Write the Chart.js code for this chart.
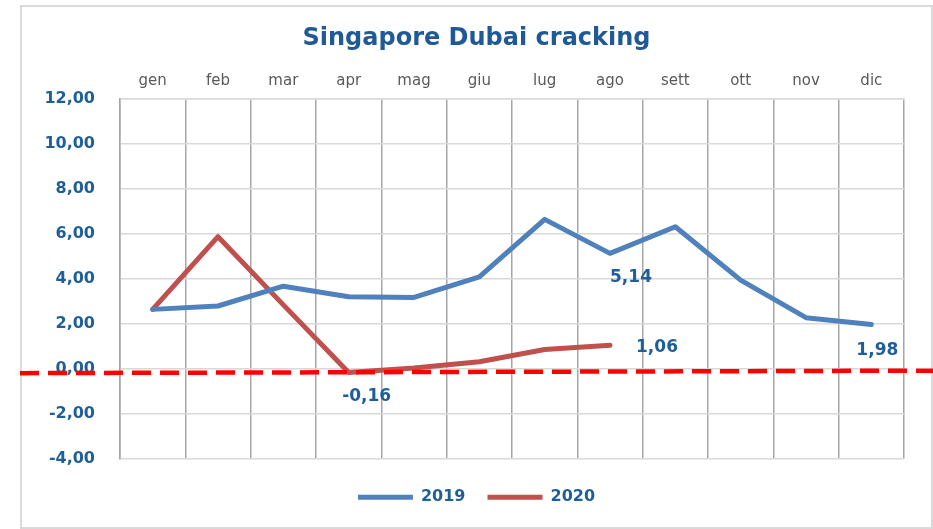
<!DOCTYPE html>
<html>
<head>
<meta charset="utf-8">
<script src="https://cdn.jsdelivr.net/npm/chart.js@4/dist/chart.umd.min.js"></script>
<style>
  html, body { margin: 0; padding: 0; background: #ffffff; }
  #wrap { width: 933px; height: 529px; position: relative; }
</style>
</head>
<body>
<div id="wrap"><canvas id="c" width="933" height="529"></canvas></div>
<script>
// ---- Data ----
const TITLE = 'Singapore Dubai cracking';
const MONTHS = ['gen', 'feb', 'mar', 'apr', 'mag', 'giu', 'lug', 'ago', 'sett', 'ott', 'nov', 'dic'];
const SERIES_2019 = [2.65, 2.80, 3.68, 3.21, 3.18, 4.09, 6.65, 5.14, 6.32, 3.95, 2.28, 1.98];
const SERIES_2020 = [2.65, 5.88, 2.85, -0.16, 0.04, 0.32, 0.87, 1.06, null, null, null, null];
const SERIES_NAMES = ['2019', '2020'];
const Y_MIN = -4, Y_MAX = 12, Y_STEP = 2;
const REFERENCE_LEVEL = -0.14;           // red dashed line
// labelled points: [datasetIndex, monthIndex]
const LABELLED_POINTS = [[1, 3], [0, 7], [1, 7], [0, 11]];

const BLUE = '#4F81BD', RED = '#C0504D', TEXT_BLUE = '#1F5F99';
const fmt = v => v.toFixed(2).replace('.', ',');

const LABEL_OFFSETS = { '1,3': [18, 24], '0,7': [21, 24], '1,7': [47, 2], '0,11': [6, 26] };

const framePlugin = {
  id: 'frame',
  beforeDraw(chart) {
    const ctx = chart.ctx;
    ctx.save();
    ctx.fillStyle = '#ffffff';
    ctx.fillRect(0, 0, chart.width, chart.height);
    ctx.strokeStyle = '#d9d9d9';
    ctx.lineWidth = 2;
    ctx.strokeRect(21, 6, 911, 522);
    ctx.restore();
  }
};

const labelsPlugin = {
  id: 'pointLabels',
  afterDatasetsDraw(chart) {
    const ctx = chart.ctx;
    ctx.save();
    ctx.font = 'bold 17px "DejaVu Sans"';
    ctx.fillStyle = TEXT_BLUE;
    ctx.textAlign = 'center';
    ctx.textBaseline = 'middle';
    LABELLED_POINTS.forEach(([d, i]) => {
      const el = chart.getDatasetMeta(d).data[i];
      const v = chart.data.datasets[d].data[i];
      const off = LABEL_OFFSETS[d + ',' + i];
      ctx.fillText(fmt(v), el.x + off[0], el.y + off[1]);
    });
    ctx.restore();
  }
};

const refLinePlugin = {
  id: 'refLine',
  afterDraw(chart) {
    const ctx = chart.ctx;
    const y = chart.scales.y.getPixelForValue(REFERENCE_LEVEL);
    ctx.save();
    ctx.strokeStyle = '#FF0000';
    ctx.lineWidth = 4.5;
    ctx.setLineDash([19, 9]);
    ctx.beginPath();
    ctx.moveTo(20, y + 1);
    ctx.lineTo(933, y - 1.5);
    ctx.stroke();
    ctx.restore();
  }
};

new Chart(document.getElementById('c'), {
  type: 'line',
  data: {
    labels: MONTHS,
    datasets: [
      { label: SERIES_NAMES[0], data: SERIES_2019, borderColor: BLUE, backgroundColor: BLUE,
        borderWidth: 5, pointRadius: 0, tension: 0, borderCapStyle: 'round', borderJoinStyle: 'round' },
      { label: SERIES_NAMES[1], data: SERIES_2020, borderColor: RED, backgroundColor: RED,
        borderWidth: 5, pointRadius: 0, tension: 0, borderCapStyle: 'round', borderJoinStyle: 'round' }
    ]
  },
  options: {
    responsive: false,
    animation: false,
    layout: { padding: { left: 21, right: 1, top: 0, bottom: 13.8 } },
    plugins: {
      title: {
        display: true, text: TITLE, color: '#1F5A96',
        font: { family: '"DejaVu Sans"', size: 24, weight: 'bold', lineHeight: 1.2 },
        padding: { top: 24, bottom: 0 }
      },
      legend: {
        position: 'bottom',
        title: { display: true, text: '', font: { size: 1 }, padding: { top: 7, bottom: 0 } },
        labels: {
          usePointStyle: true, pointStyle: 'line', pointStyleWidth: 55,
          padding: 22, color: TEXT_BLUE,
          font: { family: '"DejaVu Sans"', size: 16, weight: 'bold' }
        }
      },
      tooltip: { enabled: false }
    },
    scales: {
      x: {
        position: 'top',
        offset: true,
        grid: { offset: true, color: '#a6a6a6', lineWidth: 1.5, drawTicks: false },
        border: { color: '#d9d9d9', width: 1.5 },
        ticks: { color: '#595959', padding: 9, font: { family: '"DejaVu Sans"', size: 15 } },
        afterFit(s) { s.height = 46.2; }
      },
      y: {
        min: Y_MIN, max: Y_MAX,
        grid: { color: '#d9d9d9', lineWidth: 1.5, drawTicks: false },
        border: { color: '#a6a6a6', width: 1.5 },
        ticks: { stepSize: Y_STEP, color: TEXT_BLUE, padding: 25,
                 font: { family: '"DejaVu Sans"', size: 16, weight: 'bold' },
                 callback: v => fmt(v) },
        afterFit(s) { s.width = 99; }
      },
      yRight: {
        type: 'linear', position: 'right', min: Y_MIN, max: Y_MAX,
        grid: { display: false }, border: { display: false },
        ticks: { display: false },
        afterFit(s) { s.width = 28; }
      }
    }
  },
  plugins: [framePlugin, labelsPlugin, refLinePlugin]
});
</script>
</body>
</html>
